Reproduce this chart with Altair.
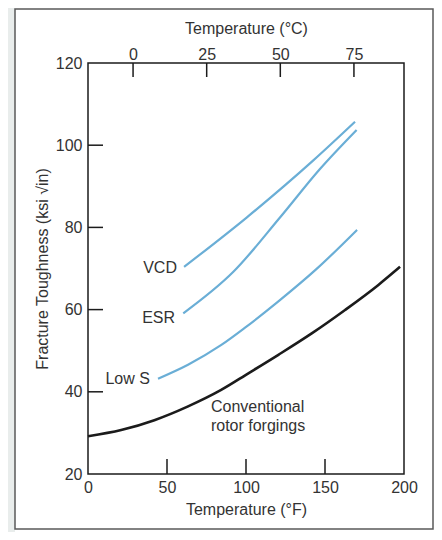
import altair as alt
import pandas as pd

# ---- data ----
conv_F = [0, 21, 42, 63, 84, 101.5, 120.5, 141.6, 162.7, 183.8, 197.5]
conv_K = [29.2, 30.7, 33.1, 36.4, 40.4, 44.5, 49.0, 54.2, 59.9, 66.0, 70.4]

lows_F = [44.3, 63.3, 84.4, 99.4, 120.5, 144.7, 170.3]
lows_K = [43.2, 46.6, 51.4, 55.6, 62.0, 69.9, 79.4]

esr_F = [60.3, 92.0, 121.5, 146.8, 170.0]
esr_K = [59.1, 69.2, 82.4, 94.2, 103.7]

vcd_F = [60.8, 100.4, 142.6, 169.0]
vcd_K = [70.4, 82.4, 96.3, 105.7]

lab_text = ["VCD", "ESR", "Low S"]
lab_F = [56.3, 55.1, 39.2]
lab_K = [70.2, 58.0, 43.1]

conv_text = ["Conventional", "rotor forgings"]
conv_lab_F = [77.8, 77.8]
conv_lab_K = [36.4, 31.8]

f_ticks = [0, 50, 100, 150, 200]
f_inner_ticks = [50, 100, 150]
k_ticks = [20, 40, 60, 80, 100, 120]
k_inner_ticks = [40, 60, 80, 100]
c_ticks = [0, 25, 50, 75]

# ---- styling ----
W, H = 316, 411
FONT = "Liberation Sans"
TXT = "#333333"
BLUE = "#6aaed6"
BLACK = "#1b1b1b"
GRAY_BG = "#e9edec"

xF = alt.Scale(domain=[0, 200], nice=False, zero=False)
yK = alt.Scale(domain=[20, 120], nice=False, zero=False)
xC = alt.Scale(domain=[-15.3, 92.0], nice=False, zero=False)

axF = alt.Axis(values=f_ticks, title="Temperature (°F)", labelPadding=5, titlePadding=6)
axK = alt.Axis(values=k_ticks, title="Fracture Toughness (ksi √in)", labelPadding=6, titlePadding=5)
axC = alt.Axis(orient="top", values=c_ticks, title="Temperature (°C)", labelPadding=1, titlePadding=10)

def X():
    return alt.X("F:Q", scale=xF, axis=axF)

def Y():
    return alt.Y("K:Q", scale=yK, axis=axK)

one = pd.DataFrame({"a": [0]})

conv_df = pd.DataFrame({"F": conv_F, "K": conv_K})
blue_df = pd.concat([
    pd.DataFrame({"F": lows_F, "K": lows_K, "s": "Low S"}),
    pd.DataFrame({"F": esr_F, "K": esr_K, "s": "ESR"}),
    pd.DataFrame({"F": vcd_F, "K": vcd_K, "s": "VCD"}),
])
lab_df = pd.DataFrame({"F": lab_F, "K": lab_K, "t": lab_text})
conv_lab_df = pd.DataFrame({"F": conv_lab_F, "K": conv_lab_K, "t": conv_text})

# outer page frame: gray strip at the left, thin gray border round the figure
left_strip = alt.Chart(one).mark_rect(fill=GRAY_BG, strokeWidth=0).encode(
    x=alt.value(-80), x2=alt.value(-73), y=alt.value(-55), y2=alt.value(469)
)
outer = alt.Chart(one).mark_rect(filled=False, stroke="#5a5a5a", strokeWidth=1.5).encode(
    x=alt.value(-73), x2=alt.value(345), y=alt.value(-54), y2=alt.value(466)
)

frame = alt.Chart(one).mark_rect(filled=False, stroke=BLACK, strokeWidth=1.5).encode(
    x=alt.value(0), x2=alt.value(W), y=alt.value(0), y2=alt.value(H)
)

bottom_ticks = alt.Chart(pd.DataFrame({"F": f_inner_ticks})).mark_rule(color=BLACK, strokeWidth=1.5).encode(
    x=X(), y=alt.value(H), y2=alt.value(H - 15)
)
left_ticks = alt.Chart(pd.DataFrame({"K": k_inner_ticks})).mark_rule(color=BLACK, strokeWidth=1.5).encode(
    y=Y(), x=alt.value(0), x2=alt.value(15)
)

conv_line = alt.Chart(conv_df).mark_line(color=BLACK, strokeWidth=2.6, interpolate="monotone").encode(
    x=X(), y=Y()
)

blue_lines = alt.Chart(blue_df).mark_line(color=BLUE, strokeWidth=2.2, interpolate="monotone").encode(
    x=X(), y=Y(), detail="s:N"
)

labels = alt.Chart(lab_df).mark_text(align="right", baseline="middle", font=FONT, fontSize=16, color=TXT).encode(
    x=X(), y=Y(), text="t:N"
)
conv_labels = alt.Chart(conv_lab_df).mark_text(align="left", baseline="middle", font=FONT, fontSize=16, color=TXT).encode(
    x=X(), y=Y(), text="t:N"
)

f_layer = alt.layer(left_strip, outer, frame, bottom_ticks, left_ticks, conv_line, blue_lines, labels, conv_labels)

top_ticks = alt.Chart(pd.DataFrame({"C": c_ticks})).mark_rule(color=BLACK, strokeWidth=1.5).encode(
    x=alt.X("C:Q", scale=xC, axis=axC),
    y=alt.value(0), y2=alt.value(14),
)

chart = alt.layer(f_layer, top_ticks).resolve_scale(x="independent").properties(
    width=W, height=H,
    padding={"left": 80, "top": 55, "right": 30, "bottom": 58},
    autosize=alt.AutoSizeParams(type="none"),
    background="white",
).configure_view(stroke=None).configure_axis(
    grid=False, ticks=False, domain=False, labelFlush=False,
    labelFont=FONT, labelFontSize=16, labelColor=TXT,
    titleFont=FONT, titleFontSize=16, titleColor=TXT, titleFontWeight="normal",
)

chart.save("out.html", embed_options={"renderer": "svg", "actions": False})
